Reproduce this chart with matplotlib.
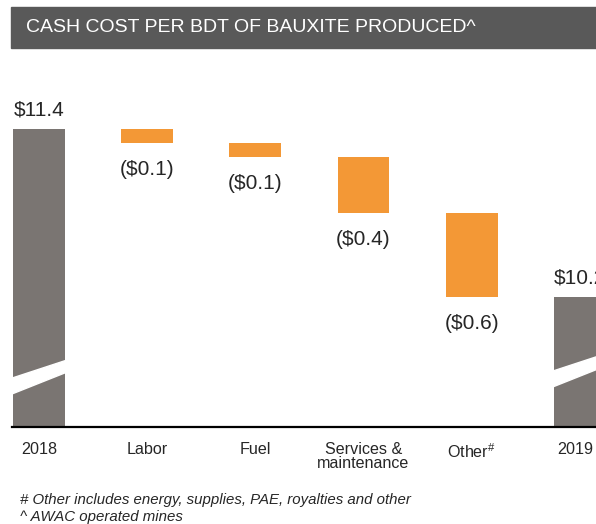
import matplotlib
matplotlib.use("Agg")
import matplotlib.pyplot as plt
import matplotlib.transforms as mtransforms
from matplotlib.patches import Rectangle, Polygon

plt.rcParams['font.family'] = ['Liberation Sans', 'DejaVu Sans']
plt.rcParams['mathtext.fontset'] = 'custom'
plt.rcParams['mathtext.rm'] = 'Liberation Sans'

# Данные
categories = ['2018', 'Labor', 'Fuel', 'Services &\nmaintenance', r'Other$^{\#}$', '2019']
start_value = 11.4
changes = [-0.1, -0.1, -0.4, -0.6]
end_value = 10.2
total_labels = ['$11.4', '$10.2']
change_labels = ['($0.1)', '($0.1)', '($0.4)', '($0.6)']

title = 'CASH COST PER BDT OF BAUXITE PRODUCED^'
footnotes = ['# Other includes energy, supplies, PAE, royalties and other',
             '^ AWAC operated mines']

GRAY = '#7a7572'
ORANGE = '#f39836'
TXT = '#262626'
W, H = 596, 524

fig = plt.figure(figsize=(W / 100, H / 100), dpi=100)

# заголовок-плашка
fig.patches.append(Rectangle((11 / W, 1 - 48 / H), (W - 11) / W, 41 / H,
                             transform=fig.transFigure, color='#595959', zorder=0))
fig.text(26 / W, 1 - 28 / H, title, color='white', fontsize=14, va='center', ha='left')

ax = fig.add_axes([12 / W, 1 - 427 / H, (W - 12) / W, 367 / H])
ymin = 9.27
ax.set_xlim(-0.25, 5.15)
ax.set_ylim(ymin, 11.893)
for s in ax.spines.values():
    s.set_visible(False)
ax.set_yticks([])

bw = 0.48
x = list(range(len(categories)))

# итоговые столбцы + разрыв оси
for xi, val, lab, shift in [(x[0], start_value, total_labels[0], 0.0),
                            (x[-1], end_value, total_labels[1], 0.05)]:
    ax.bar(xi, val - ymin, bottom=ymin, width=bw, color=GRAY, zorder=2)
    ax.annotate(lab, (xi, val), xytext=(0, 7), textcoords='offset points',
                ha='center', va='bottom', fontsize=15, color=TXT)
    l, r = xi - bw / 2 - 0.02, xi + bw / 2 + 0.02
    band = Polygon([(l, 9.617 + shift), (r, 9.749 + shift), (r, 9.663 + shift), (l, 9.503 + shift)],
                   closed=True, color='white', zorder=3)
    ax.add_patch(band)

# изменения
running = start_value
for i, (d, lab) in enumerate(zip(changes, change_labels)):
    xi = x[i + 1]
    ax.bar(xi, -d, bottom=running + d, width=bw, color=ORANGE, zorder=2)
    ax.annotate(lab, (xi, running + d), xytext=(0, -12), textcoords='offset points',
                ha='center', va='top', fontsize=15, color=TXT)
    running += d

ax.axhline(ymin, color='black', lw=1.6, zorder=4, clip_on=False)
ax.set_xticks(x)
ax.set_xticklabels(categories, fontsize=11.6, color=TXT, linespacing=0.92)
ax.tick_params(axis='x', length=0, pad=11)
# последнюю подпись чуть левее, чтобы не обрезалась
last = ax.get_xticklabels()[-1]
last.set_transform(last.get_transform() + mtransforms.ScaledTranslation(-5 / 100, 0, fig.dpi_scale_trans))

fig.text(20 / W, 1 - 500 / H, footnotes[0], fontsize=10.8, style='italic', color=TXT, va='center')
fig.text(20 / W, 1 - 517 / H, footnotes[1], fontsize=10.8, style='italic', color=TXT, va='center')

fig.savefig('out.png', dpi=100)
